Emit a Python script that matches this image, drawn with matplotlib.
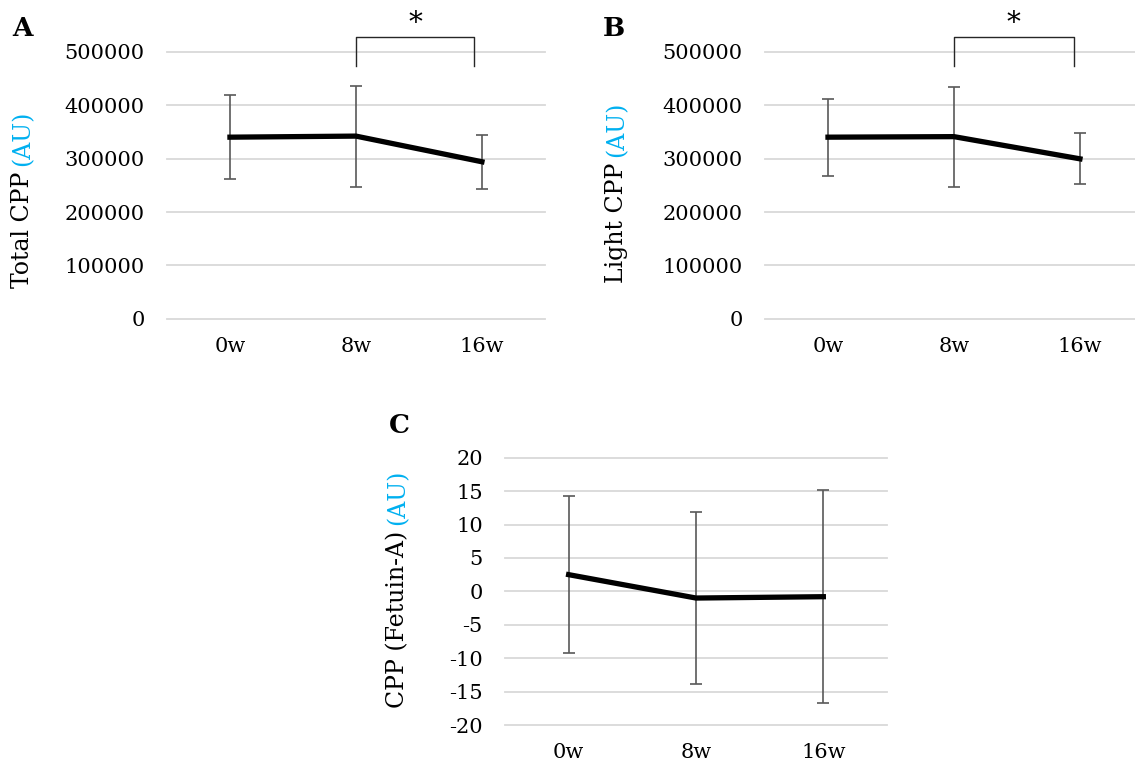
import matplotlib
matplotlib.use('Agg')
import matplotlib.pyplot as plt

weeks = ['0w', '8w', '16w']

total_mean = [340000, 342000, 294000]
total_err = [79000, 94500, 50000]

light_mean = [340000, 341000, 299500]
light_err = [72000, 93500, 47500]

fetuin_mean = [2.5, -1.0, -0.8]
fetuin_err = [11.7, 12.8, 15.9]

plt.rcParams['font.family'] = 'DejaVu Serif'
plt.rcParams['font.size'] = 15
plt.rcParams['axes.unicode_minus'] = False

GRID = '#D9D9D9'
ERR = '#595959'
BLUE = '#00B0F0'


def panel(ax, mean, err, yticks, label, letter, lab_x, lab_y):
    x = range(len(weeks))
    for t in yticks:
        ax.axhline(t, color=GRID, lw=1.3, zorder=0, clip_on=False)
    ax.errorbar(x, mean, yerr=err, color='black', lw=3.8, ecolor=ERR,
                elinewidth=1.2, capsize=4.5, capthick=1.2, zorder=3)
    ax.set_xlim(-0.5, 2.5)
    ax.set_ylim(yticks[0], yticks[-1])
    ax.set_xticks(list(x))
    ax.set_xticklabels(weeks)
    ax.set_yticks(yticks)
    ax.tick_params(length=0)
    ax.tick_params(axis='y', pad=16)
    ax.tick_params(axis='x', pad=13)
    for s in ax.spines.values():
        s.set_visible(False)
    # y label in two colours: black name, blue unit
    t1 = ax.text(lab_x, lab_y, label, rotation=90, ha='center', va='bottom',
                 transform=ax.transAxes, fontsize=17)
    ax.annotate('(AU)', xy=(0.5, 1), xycoords=t1, xytext=(0, 4),
                textcoords='offset points', rotation=90, ha='center',
                va='bottom', color=BLUE, fontsize=17)
    ax.text(letter[1], letter[2], letter[0], transform=ax.transAxes,
            fontsize=19, fontweight='bold', ha='left', va='center')


def bracket(ax, x0, x1, ytop, yleg, ystar):
    ax.plot([x0, x0, x1, x1], [yleg, ytop, ytop, yleg], color='#262626',
            lw=1.0, clip_on=False)
    ax.text((x0 + x1) / 2, ystar, '*', ha='center', va='center',
            fontsize=20, clip_on=False)


fig = plt.figure(figsize=(11.35, 7.66), dpi=100)

axA = fig.add_axes([0.1471, 0.5836, 0.3330, 0.3490])
panel(axA, total_mean, total_err, [0, 100000, 200000, 300000, 400000, 500000],
      'Total CPP', ('A', -0.41, 1.085), -0.381, 0.116)
bracket(axA, 1.0, 1.94, 528000, 473000, 553000)

axB = fig.add_axes([0.6740, 0.5836, 0.3330, 0.3490])
panel(axB, light_mean, light_err, [0, 100000, 200000, 300000, 400000, 500000],
      'Light CPP', ('B', -0.43, 1.085), -0.392, 0.135)
bracket(axB, 1.0, 1.95, 528000, 473000, 553000)

axC = fig.add_axes([0.4449, 0.0535, 0.3366, 0.3490])
panel(axC, fetuin_mean, fetuin_err, [-20, -15, -10, -5, 0, 5, 10, 15, 20],
      'CPP (Fetuin-A)', ('C', -0.305, 1.12), -0.28, 0.064)

fig.savefig('out.png', dpi=100)
